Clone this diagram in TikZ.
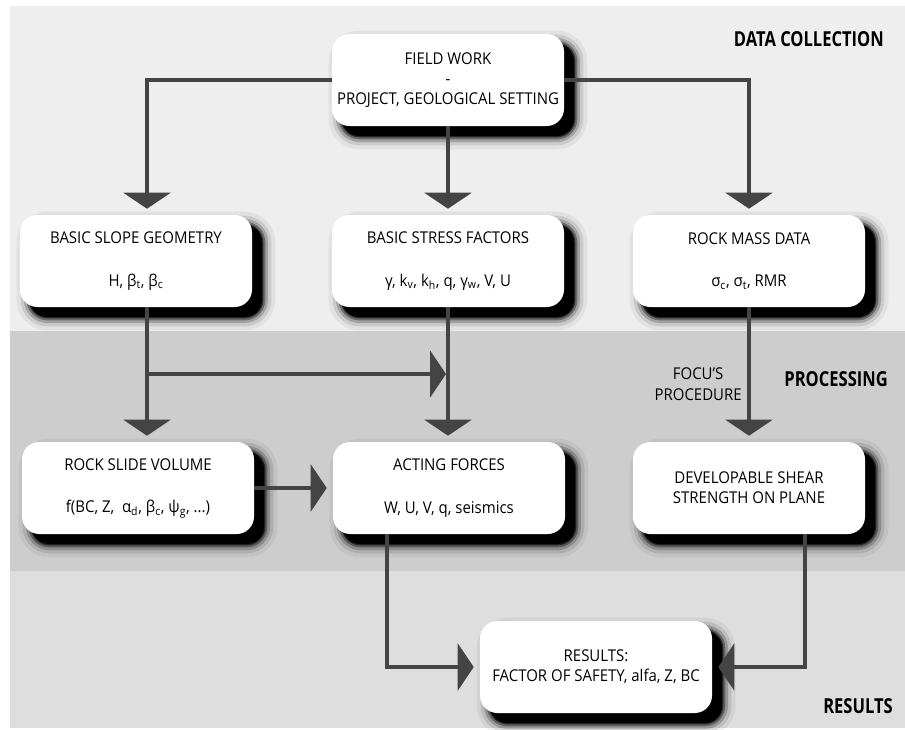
\documentclass[tikz,border=0pt]{standalone}
\usepackage{fontspec}
\setmainfont{Open Sans}[FakeStretch=0.92]
\newfontfamily\bandfont{Open Sans}[FakeStretch=0.8]
\usetikzlibrary{arrows.meta}
\definecolor{bandtop}{HTML}{EEEEEE}
\definecolor{bandmid}{HTML}{CDCDCD}
\definecolor{bandlow}{HTML}{DEDEDE}
\definecolor{flowgray}{HTML}{444444}
\tikzset{
	shade step/.style 2 args={preaction={draw=black, line width=#1, opacity=#2,
		transform canvas={shift={(7.5pt,-7.5pt)}}}},
	boxshadow/.style={preaction={fill=black, transform canvas={shift={(7.5pt,-7.5pt)}}},
		shade step={2pt}{0.6}, shade step={5pt}{0.35}, shade step={9pt}{0.2},
		shade step={14pt}{0.1}, shade step={20pt}{0.05}},
	box/.style={fill=white, rounded corners=13pt, minimum width=174pt, minimum height=69pt,
		align=center, font=\fontsize{12.2}{15}\selectfont, boxshadow},
	flow/.style={draw=flowgray, line width=3pt, -{Triangle[length=12pt,width=35pt]}, shorten >=4.5pt},
	band/.style={anchor=east, inner sep=0pt, font=\bandfont\bfseries\fontsize{15.5}{18}\selectfont}
}
\begin{document}
\begin{tikzpicture}[x=0.75pt,y=-0.75pt]
			\useasboundingbox (0,0) rectangle (905,729);
			\fill[bandtop] (10,6) rectangle (905,331);
			\fill[bandmid] (10,331) rectangle (905,571);
			\fill[bandlow] (10,571) rectangle (905,728);
			\node[band] (collect) at (884,39) {DATA COLLECTION};
			\node[band] (process) at (888,379) {PROCESSING};
			\node[band] (final) at (893,706) {RESULTS};
			\node[box] (field) at (448,80) {FIELD WORK\\-\\PROJECT, GEOLOGICAL SETTING};
			\node[box] (geometry) at (136,261) {BASIC SLOPE GEOMETRY\\[17pt]H, β\textsubscript{t}, β\textsubscript{c}};
			\node[box] (stress) at (448,261) {BASIC STRESS FACTORS\\[17pt]γ, k\textsubscript{v}, k\textsubscript{h}, q, γ\textsubscript{w}, V, U};
			\node[box] (rockmass) at (749,261) {ROCK MASS DATA\\[17pt]σ\textsubscript{c}, σ\textsubscript{t}, RMR};
			\node[box] (volume) at (138,488) {ROCK SLIDE VOLUME\\[17pt]f(BC, Z, \ α\textsubscript{d}, β\textsubscript{c}, ψ\textsubscript{g}, ...)};
			\node[box] (forces) at (449,488) {ACTING FORCES\\[17pt]W, U, V, q, seismics};
			\node[box] (shear) at (749,488) {DEVELOPABLE SHEAR\\STRENGTH ON PLANE};
			\node[box] (results) at (596,667) {RESULTS:\\FACTOR OF SAFETY, alfa, Z, BC};
			\coordinate (split) at (147,374);
			\draw[flow] (field.west) -| (split |- geometry.north);
			\draw[flow] (field.south) -- (stress.north);
			\draw[flow] (field.east) -| (rockmass.north);
			\draw[flow] (split |- geometry.south) -- (split |- volume.north);
			\draw[flow, shorten >=1.5pt] (split) -- (split -| stress.south);
			\draw[flow] (stress.south) -- (stress.south |- forces.north);
			\draw[flow] (rockmass.south) -- node[pos=0.57, left, align=center, inner sep=4pt, font=\fontsize{12.2}{16}\selectfont] (focu) {FOCU’S\\PROCEDURE} (shear.north);
			\draw[flow] (volume.east) -- (forces.west);
			\draw[flow] ([xshift=-46.5pt]forces.south) |- (results.west);
			\draw[flow] ([xshift=42pt]shear.south) |- (results.east);
		\end{tikzpicture}
\end{document}
